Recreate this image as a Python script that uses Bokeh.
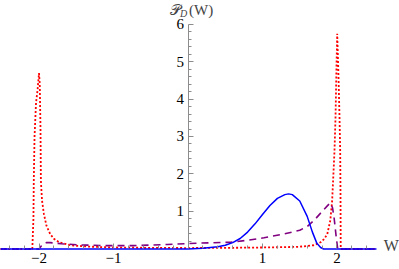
from bokeh.plotting import figure
from bokeh.models import FixedTicker, Label, Range1d
from bokeh.embed import file_html
from bokeh.resources import INLINE

# ---- data ----
blue_w = [-2.52, 0.0, 0.2, 0.4, 0.5, 0.6, 0.7, 0.8, 0.9, 1.0, 1.1, 1.2, 1.3, 1.35, 1.4,
          1.5, 1.6, 1.67, 1.73, 1.78, 1.82, 2.53]
blue_p = [0.0, 0.0, 0.02, 0.06, 0.1, 0.17, 0.28, 0.45, 0.67, 0.92, 1.16, 1.35, 1.45, 1.47, 1.45,
          1.28, 0.87, 0.45, 0.15, 0.04, 0.0, 0.0]

purple_w = [-2.52, -2.0, -1.97, -1.94, -1.9, -1.85, -1.7, -1.47, -1.13, -0.73, -0.28, 0.12,
            0.57, 0.79, 1.02, 1.29, 1.5, 1.6, 1.7, 1.8, 1.87, 1.91, 1.94, 1.96, 1.99, 2.01, 2.53]
purple_p = [0.0, 0.0, 0.08, 0.14, 0.17, 0.17, 0.14, 0.11, 0.09, 0.09, 0.12, 0.155,
            0.18, 0.23, 0.3, 0.4, 0.5, 0.6, 0.78, 1.0, 1.15, 1.23, 1.1, 0.85, 0.31, 0.0, 0.0]

red_w = [-2.52, -2.09, -2.075, -2.07, -2.06, -2.04, -2.02, -2.0, -1.99, -1.98, -1.975, -1.96,
         -1.935, -1.9, -1.85, -1.8, -1.73, -1.6, -1.53, -1.3, -1.0, -0.5, 0.0, 0.5, 1.0, 1.3,
         1.5, 1.69, 1.78, 1.83, 1.87, 1.91, 1.935, 1.966, 1.98, 1.993, 2.003, 2.02, 2.034,
         2.043, 2.047, 2.05, 2.53]
red_p = [0.0, 0.0, 0.8, 1.83, 3.0, 3.9, 4.23, 4.69, 4.4, 3.2, 1.83, 1.3,
         0.94, 0.62, 0.4, 0.27, 0.18, 0.11, 0.09, 0.06, 0.04, 0.03, 0.025, 0.03, 0.04, 0.05,
         0.06, 0.1, 0.18, 0.27, 0.4, 0.76, 1.29, 2.6, 3.5, 4.85, 5.74, 4.6, 3.5,
         2.6, 1.5, 0.0, 0.0]

X_TICKS = [-2, -1, 1, 2]
X_TICK_LABELS = ["\u22122", "\u22121", "1", "2"]
Y_TICKS = [1, 2, 3, 4, 5, 6]
Y_TICK_LABELS = ["1", "2", "3", "4", "5", "6"]
X_LABEL = "W"
Y_LABEL_MAIN = "\U0001D4AB"
Y_LABEL_SUB = "D"
Y_LABEL_ARG = "(W)"

FONT = "Liberation Serif"
AXIS_GRAY = "#8c8c8c"

p = figure(width=399, height=269,
           x_range=Range1d(-2.517, 2.839), y_range=Range1d(-0.547, 6.627),
           output_backend="svg", toolbar_location=None, min_border=0)
p.outline_line_color = None
p.grid.visible = False

x_minor = [round(-2.4 + 0.2 * i, 2) for i in range(25)]
x_minor = [v for v in x_minor if abs(v - round(v)) > 1e-6]
y_minor = [round(0.2 * i, 2) for i in range(31)]
y_minor = [v for v in y_minor if abs(v - round(v)) > 1e-6]

xa = p.xaxis[0]
xa.fixed_location = 0
xa.ticker = FixedTicker(ticks=X_TICKS, minor_ticks=x_minor)
xa.major_label_overrides = {t: l for t, l in zip(X_TICKS, X_TICK_LABELS)}
xa.axis_line_color = None
xa.bounds = (-2.52, 2.53)

ya = p.yaxis[0]
ya.fixed_location = 0
ya.ticker = FixedTicker(ticks=Y_TICKS, minor_ticks=y_minor)
ya.major_label_overrides = {t: l for t, l in zip(Y_TICKS, Y_TICK_LABELS)}
ya.bounds = (0, 6)
ya.axis_line_color = AXIS_GRAY

for ax in (xa, ya):
    ax.major_tick_in = 5
    ax.major_tick_out = 0
    ax.minor_tick_in = 3
    ax.minor_tick_out = 0
    ax.major_tick_line_color = AXIS_GRAY
    ax.minor_tick_line_color = AXIS_GRAY
    ax.major_label_text_font = FONT
    ax.major_label_text_font_size = "15px"
    ax.major_label_text_color = "black"
xa.major_label_standoff = 4
ya.major_label_standoff = 4

p.line(red_w, red_p, line_color="#ff0000", line_width=1.8, line_dash="2 2")
p.line(purple_w, purple_p, line_color="#800080", line_width=1.6, line_dash="7 5")
p.line(blue_w, blue_p, line_color="#0000ff", line_width=1.5)

p.add_layout(Label(x=2.73, y=0.09, text=X_LABEL, text_font=FONT, text_font_size="16px",
                   text_align="center", text_baseline="middle"))
p.add_layout(Label(x=0, y=6.6, x_offset=-7, text=Y_LABEL_MAIN, text_font=FONT,
                   text_font_size="15px", text_align="right", text_baseline="top"))
p.add_layout(Label(x=0, y=6.6, x_offset=-8, y_offset=-6, text=Y_LABEL_SUB, text_font=FONT,
                   text_font_size="10px", text_font_style="italic",
                   text_align="left", text_baseline="top"))
p.add_layout(Label(x=0, y=6.6, x_offset=1, text=Y_LABEL_ARG, text_font=FONT,
                   text_font_size="15px", text_align="left", text_baseline="top"))

open("out.html", "w").write(file_html(p, INLINE))
